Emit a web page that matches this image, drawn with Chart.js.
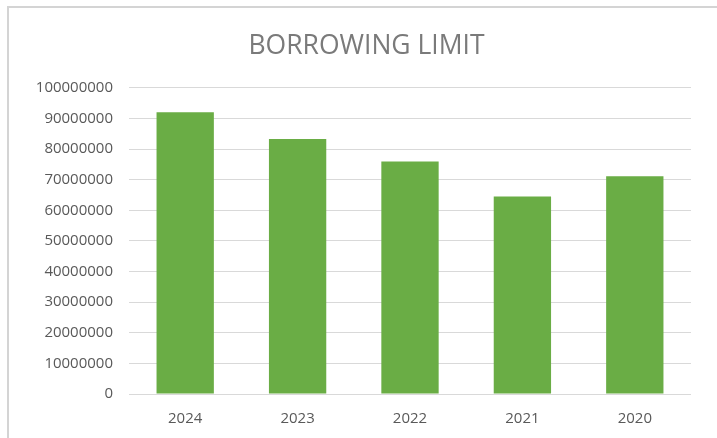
<!DOCTYPE html>
<html>
<head>
<meta charset="utf-8">
<title>Borrowing Limit</title>
<script src="https://cdn.jsdelivr.net/npm/chart.js@4/dist/chart.umd.min.js"></script>
<style>
  html, body { margin: 0; padding: 0; background: #fff; overflow: hidden; }
  #wrap { position: relative; width: 717px; height: 438px; }
  #chart { position: absolute; left: 0; top: 0; }
  /* frame line along the top and left edge */
  #frame {
    position: absolute; left: 7px; top: 6px; right: -4px; bottom: -4px;
    border-top: 2px solid #d4d4d4; border-left: 2px solid #d4d4d4;
    pointer-events: none;
  }
</style>
</head>
<body>
<div id="wrap">
  <canvas id="chart" width="717" height="438"></canvas>
  <div id="frame"></div>
</div>
<script>
const years = ["2024", "2023", "2022", "2021", "2020"];
const limits = [92000000, 83300000, 75900000, 64500000, 71100000];

const axisMin = 0;
const axisMax = 100000000;
const axisStep = 10000000;

const labelFont = { family: "'Open Sans', 'Liberation Sans', sans-serif", size: 15 };

// nudge the title box a little to the right after layout
const titleShift = {
  id: "titleShift",
  afterLayout(chart) {
    const t = chart.titleBlock;
    if (!t) return;
    t.left += 11;
    t.right += 11;
  }
};

const ctx = document.getElementById("chart").getContext("2d");
new Chart(ctx, {
  type: "bar",
  data: {
    labels: years,
    datasets: [{
      label: "Borrowing limit",
      data: limits,
      backgroundColor: "#6aad45",
      borderWidth: 0,
      categoryPercentage: 1,
      barPercentage: 0.51
    }]
  },
  options: {
    responsive: false,
    animation: false,
    layout: { padding: { left: 20, right: 26, top: 14, bottom: 12 } },
    plugins: {
      legend: { display: false },
      tooltip: { enabled: false },
      title: {
        display: true,
        text: "BORROWING LIMIT",
        color: "#7a7a7a",
        font: { family: "'Open Sans', 'Liberation Sans', sans-serif", size: 26.5, weight: "normal" },
        padding: { top: 17, bottom: 25 }
      }
    },
    scales: {
      x: {
        grid: { display: false, drawTicks: false },
        border: { display: false },
        ticks: { color: "#595959", font: labelFont, padding: 16 },
        afterFit: scale => { scale.height = 32; }
      },
      y: {
        min: axisMin,
        max: axisMax,
        grid: { color: "#d9d9d9", lineWidth: 1, drawTicks: false },
        border: { display: false },
        ticks: {
          stepSize: axisStep,
          color: "#595959",
          font: labelFont,
          padding: 16,
          callback: v => String(v)
        },
        afterFit: scale => { scale.width = 109; }
      }
    }
  },
  plugins: [titleShift]
});
</script>
</body>
</html>
